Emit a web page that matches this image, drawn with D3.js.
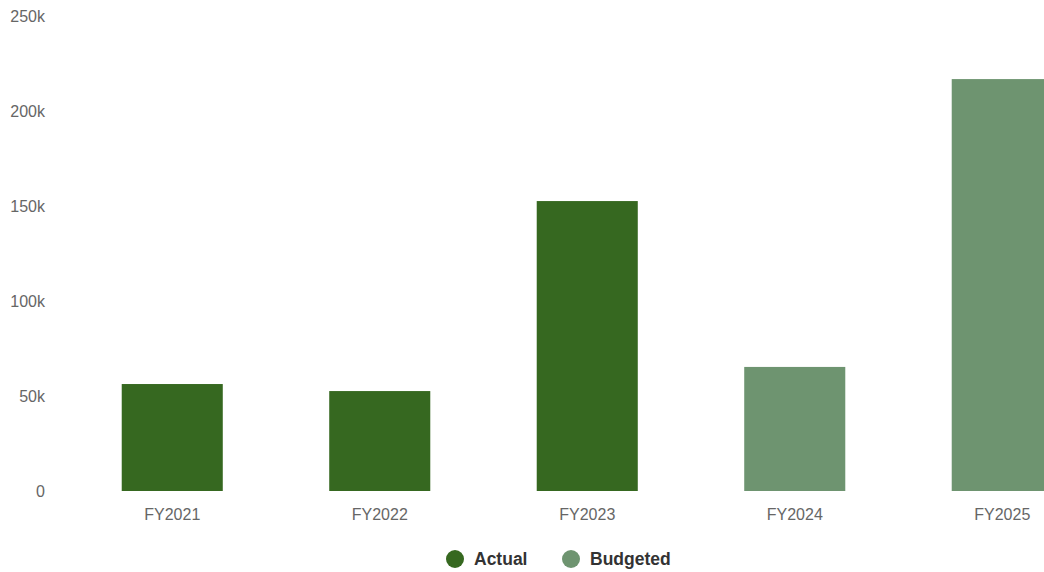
<!DOCTYPE html>
<html><head><meta charset="utf-8">
<script src="https://cdn.jsdelivr.net/npm/d3@7"></script>
<style>body{margin:0;background:#fff;}svg{display:block;font-family:"Liberation Sans",Arial,sans-serif;}</style>
</head><body>
<svg id="c" width="1044" height="572"></svg>
<script>
const categories = ["FY2021","FY2022","FY2023","FY2024","FY2025"];
const values = [56300, 52600, 152600, 65300, 216800];
const seriesType = ["Actual","Actual","Actual","Budgeted","Budgeted"];
const seriesNames = ["Actual","Budgeted"];
const seriesColors = ["#366820","#6e9470"];
const yTicks = [0,50000,100000,150000,200000,250000];

const svg = d3.select("#c");
const x = d3.scaleBand().domain(categories).range([68.5,1106]).paddingInner(0.513).paddingOuter(0.2565);
const y = d3.scaleLinear().domain([0,250000]).range([491,16]);
const color = d3.scaleOrdinal().domain(seriesNames).range(seriesColors);

svg.append("g").selectAll("rect").data(categories).join("rect")
  .attr("x", d=>x(d)).attr("width", x.bandwidth())
  .attr("y", (d,i)=>y(values[i])).attr("height",(d,i)=>y(0)-y(values[i]))
  .attr("fill",(d,i)=>color(seriesType[i]));

const yAxis = svg.append("g").attr("transform","translate(45,0.8)")
  .call(d3.axisLeft(y).tickValues(yTicks).tickSize(0).tickPadding(0)
    .tickFormat(d=> d===0 ? "0" : (d/1000)+"k"));
yAxis.select(".domain").remove();
yAxis.selectAll("text").attr("fill","#666").style("font-size","16px").attr("font-family","Liberation Sans, Arial, sans-serif");

const xAxis = svg.append("g").attr("transform","translate(0,491)")
  .call(d3.axisBottom(x).tickSize(0).tickPadding(17.5));
xAxis.select(".domain").remove();
xAxis.selectAll("text").attr("fill","#666").style("font-size","16px").attr("font-family","Liberation Sans, Arial, sans-serif");

const legend = svg.append("g");
const legX = [455, 571];
seriesNames.forEach((s,i)=>{
  legend.append("circle").attr("cx",legX[i]).attr("cy",559).attr("r",9).attr("fill",color(s));
  legend.append("text").attr("x",legX[i]+19).attr("y",559).attr("dy","0.35em")
    .attr("fill","#333").style("font-size","17.5px").style("font-weight","bold").text(s);
});
</script>
</body></html>
